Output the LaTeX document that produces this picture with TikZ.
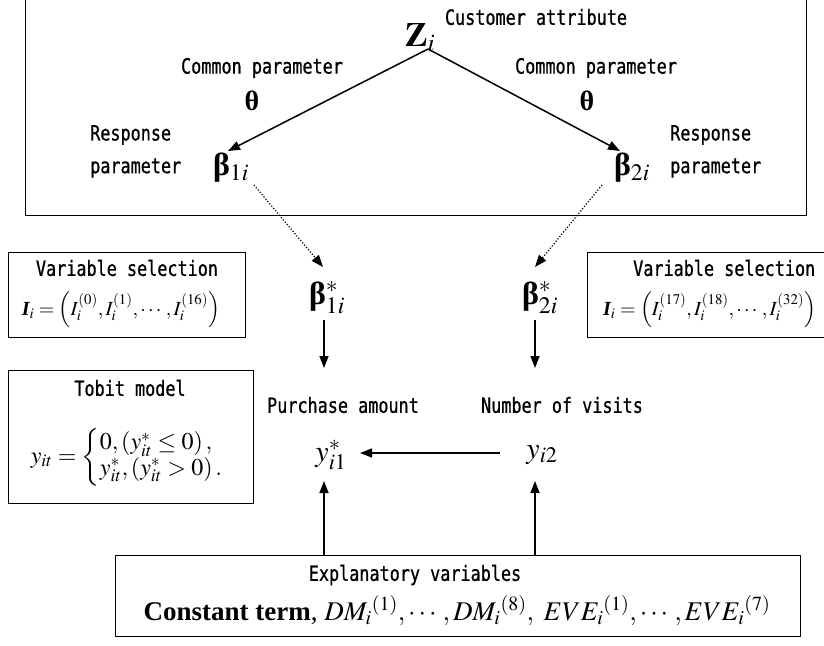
\documentclass[tikz,border=0pt]{standalone}
\usepackage{amsmath}
\usepackage{mathptmx}
\usepackage{fontspec}
\setmainfont{Liberation Serif}
\newfontfamily\lblfont[FakeStretch=0.8,FakeBold=0.8]{DejaVu Sans Mono}
\usetikzlibrary{arrows.meta}
\newcommand{\BI}{\mbox{\bfseries\itshape I}}
\newcommand{\bb}{\mbox{\bfseries β}}
\begin{document}
\begin{tikzpicture}[x=1pt,y=-1pt,
  lab/.style={font={\lblfont\fontsize{21}{23}\selectfont}, inner sep=0pt},
  frame/.style={draw, line width=1.4pt, inner sep=0pt, anchor=north west},
  arr/.style={line width=1.5pt, -{Triangle[length=12pt,width=9pt]}},
  darr/.style={line width=1.2pt, dash pattern=on 1.2pt off 1.8pt, -{Triangle[length=12pt,width=9pt]}},
  mth/.style={inner sep=0pt, font=\fontsize{#1}{#1}\selectfont},
  mth/.default=22]
\useasboundingbox (0,0) rectangle (824,645);
\clip (0,0) rectangle (824,645);

% frames
\node[frame, minimum width=781pt, minimum height=235pt] (topbox) at (25,-20) {};
\node[frame, minimum width=237pt, minimum height=85pt] (varL) at (8,252) {};
\node[frame, minimum width=260pt, minimum height=85pt] (varR) at (587,252) {};
\node[frame, minimum width=245pt, minimum height=133pt] (tobit) at (8,370) {};
\node[frame, minimum width=685pt, minimum height=81pt] (expl) at (115,555) {};

% top part
\node[lab] (cust) at (536,17) {Customer attribute};
\node[mth=34] (Z) at (420,38) {$\mathbf{Z}_i$};
\node[lab] (cpL) at (262,68) {Common parameter};
\node[lab] (cpR) at (596,68) {Common parameter};
\node[mth=28] (thL) at (252,101) {\textbf{θ}};
\node[mth=28] (thR) at (587,101) {\textbf{θ}};
\node[lab, anchor=west] (respL) at (90,135) {Response};
\node[lab, anchor=west] (parL) at (90,168) {parameter};
\node[lab, anchor=west] (respR) at (670,135) {Response};
\node[lab, anchor=west] (parR) at (670,168) {parameter};
\node[mth=32] (b1) at (231,168) {\bb$_{1i}$};
\node[mth=32] (b2) at (632,168) {\bb$_{2i}$};

\coordinate (apex) at (428,49);
\coordinate (tipL) at (228,151);
\coordinate (tipR) at (620,151);
\draw[arr] (apex) -- (tipL);
\draw[arr] (apex) -- (tipR);

% middle
\coordinate (dL0) at (254,185);
\coordinate (dL1) at (323,267);
\coordinate (dR0) at (602,185);
\coordinate (dR1) at (535,267);
\draw[darr] (dL0) -- (dL1);
\draw[darr] (dR0) -- (dR1);

\node[mth=32] (bs1) at (327,298) {\bb$^{*}_{1i}$};
\node[mth=32] (bs2) at (540,298) {\bb$^{*}_{2i}$};

\coordinate (a1) at (324,320);
\coordinate (a2) at (324,368);
\coordinate (a3) at (535,320);
\coordinate (a4) at (535,368);
\draw[arr] (a1) -- (a2);
\draw[arr] (a3) -- (a4);

\node[lab] (pa) at (343,405) {Purchase amount};
\node[lab] (nv) at (562,405) {Number of visits};
\node[mth=30] (y1) at (331,455) {$y^{*}_{i1}$};
\node[mth=30] (y2) at (542,455) {$y_{i2}$};
\coordinate (h0) at (500,453);
\coordinate (h1) at (360,453);
\draw[arr] (h0) -- (h1);

\coordinate (u1) at (324,555);
\coordinate (u2) at (324,481);
\coordinate (u3) at (535,555);
\coordinate (u4) at (535,481);
\draw[arr] (u1) -- (u2);
\draw[arr] (u3) -- (u4);

% boxes content
\node[lab] (vsL) at (127,268) {Variable selection};
\node[mth=20] (fL) at (121,310) {$\BI_i=\left(I_i^{(0)},I_i^{(1)},\cdots,I_i^{(16)}\right)$};
\node[lab, anchor=west] (vsR) at (633,268) {Variable selection};
\node[mth=20, anchor=west] (fR) at (603,310) {$\BI_i=\left(I_i^{(17)},I_i^{(18)},\cdots,I_i^{(32)}\right)$};

\node[lab] (tm) at (130,388) {Tobit model};
\node[mth=24] (tf) at (127,457) {$y_{it}=\left\{\begin{array}{@{}l@{}}0,\left(y^{*}_{it}\le 0\right),\\ y^{*}_{it},\left(y^{*}_{it}>0\right).\end{array}\right.$};

\node[lab] (ev) at (415,575) {Explanatory variables};
\node[mth=27] (ef) at (457,611) {\textbf{Constant term}, ${DM_i}^{(1)},\cdots,{DM_i}^{(8)},\ {EVE_i}^{(1)},\cdots,{EVE_i}^{(7)}$};
\end{tikzpicture}
\end{document}
